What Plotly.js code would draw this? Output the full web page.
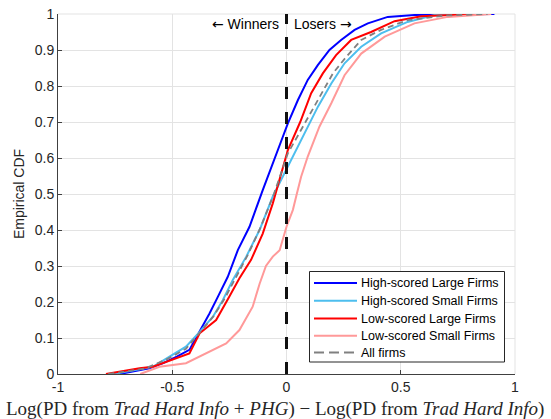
<!DOCTYPE html>
<html>
<head>
<meta charset="utf-8">
<script src="https://cdn.plot.ly/plotly-3.0.1.min.js"></script>
<style>html,body{margin:0;padding:0;background:#fff;}#chart{width:551px;height:419px;}</style>
</head>
<body>
<div id="chart"></div>
<script>
// Series names
const seriesNames = ["High-scored Large Firms", "High-scored Small Firms", "Low-scored Large Firms", "Low-scored Small Firms", "All firms"];

// High-scored Large Firms (x, CDF)
const hlX = [-0.73, -0.6, -0.54, -0.48, -0.425, -0.38, -0.337, -0.30, -0.257, -0.213, -0.162, -0.104, -0.053, -0.016, 0.006, 0.05, 0.093, 0.137, 0.188, 0.239, 0.298, 0.356, 0.443, 0.56, 0.75, 0.91];
const hlY = [0, 0.016, 0.03, 0.048, 0.067, 0.117, 0.168, 0.215, 0.27, 0.344, 0.409, 0.511, 0.594, 0.659, 0.696, 0.761, 0.817, 0.858, 0.9, 0.928, 0.956, 0.974, 0.992, 0.997, 0.999, 1];

// High-scored Small Firms
const hsX = [-0.76, -0.585, -0.512, -0.44, -0.38, -0.322, -0.279, -0.235, -0.176, -0.118, -0.06, 0.0, 0.079, 0.137, 0.196, 0.254, 0.327, 0.414, 0.53, 0.648, 0.8, 0.88];
const hsY = [0, 0.02, 0.048, 0.076, 0.117, 0.159, 0.205, 0.261, 0.326, 0.4, 0.493, 0.57, 0.668, 0.742, 0.807, 0.863, 0.909, 0.946, 0.978, 0.997, 0.999, 1];

// Low-scored Large Firms
const llX = [-0.79, -0.73, -0.643, -0.585, -0.5, -0.425, -0.38, -0.308, -0.25, -0.206, -0.155, -0.104, -0.06, -0.03, 0.006, 0.06, 0.108, 0.159, 0.217, 0.283, 0.37, 0.473, 0.59, 0.75, 0.87];
const llY = [0, 0.007, 0.016, 0.02, 0.039, 0.057, 0.113, 0.15, 0.215, 0.266, 0.317, 0.39, 0.474, 0.539, 0.622, 0.70, 0.78, 0.835, 0.886, 0.928, 0.95, 0.98, 0.994, 0.998, 1];

// Low-scored Small Firms
const lsX = [-0.64, -0.556, -0.44, -0.35, -0.264, -0.206, -0.148, -0.118, -0.09, -0.06, -0.03, 0.0, 0.028, 0.045, 0.064, 0.093, 0.144, 0.196, 0.254, 0.327, 0.43, 0.56, 0.706, 0.896];
const lsY = [0, 0.02, 0.03, 0.057, 0.085, 0.122, 0.187, 0.25, 0.30, 0.326, 0.344, 0.409, 0.456, 0.50, 0.548, 0.604, 0.687, 0.752, 0.83, 0.89, 0.937, 0.974, 0.992, 1];

// All firms
const allX = [-0.78, -0.62, -0.52, -0.44, -0.38, -0.32, -0.27, -0.225, -0.17, -0.115, -0.055, 0.006, 0.079, 0.137, 0.203, 0.26, 0.327, 0.414, 0.53, 0.7, 0.88];
const allY = [0, 0.015, 0.042, 0.07, 0.115, 0.16, 0.21, 0.265, 0.33, 0.405, 0.5, 0.613, 0.696, 0.76, 0.835, 0.88, 0.928, 0.956, 0.983, 0.996, 1];

// Tick labels
const xTickVals = [-1, -0.5, 0, 0.5, 1];
const xTickText = ["-1", "-0.5", "0", "0.5", "1"];
const yTickVals = [0, 0.1, 0.2, 0.3, 0.4, 0.5, 0.6, 0.7, 0.8, 0.9, 1];
const yTickText = ["0", "0.1", "0.2", "0.3", "0.4", "0.5", "0.6", "0.7", "0.8", "0.9", "1"];

const colors = ["#0000FF", "#4DBEEE", "#FF0000", "#FF9999", "#808080"];
const dashes = ["solid", "solid", "solid", "solid", "6px,4px"];
const widths = [2, 2, 2, 2, 1.8];
const xs = [hlX, hsX, llX, lsX, allX];
const ys = [hlY, hsY, llY, lsY, allY];

const traces = seriesNames.map((n, i) => ({
  type: "scatter",
  mode: "lines",
  name: n,
  x: xs[i],
  y: ys[i],
  showlegend: false,
  line: {color: colors[i], width: widths[i], dash: dashes[i]}
}));

const font = "Liberation Sans, Arial, sans-serif";

// plot area geometry (pixels)
const L = 58, R = 515, T = 14, B = 374;
const px2x = p => (p - L) / (R - L);
const py2y = p => (B - p) / (B - T);

const shapes = [
  {type: "line", xref: "x", yref: "y", x0: 0, x1: 0, y0: 0, y1: 1,
   line: {color: "#111111", width: 3, dash: "12px,13px"}},
  {type: "line", xref: "paper", yref: "paper", x0: 0, x1: 1, y0: 1, y1: 1,
   line: {color: "#e3e3e3", width: 1}, layer: "below"},
  {type: "line", xref: "paper", yref: "paper", x0: 1, x1: 1, y0: 0, y1: 1,
   line: {color: "#e3e3e3", width: 1}, layer: "below"},
  // legend box
  {type: "rect", xref: "paper", yref: "paper", x0: px2x(309.5), x1: px2x(504.5), y0: py2y(362), y1: py2y(271.5),
   fillcolor: "#ffffff", line: {color: "#262626", width: 1}, layer: "above"}
];

const annotations = [
  {xref: "x", yref: "y", x: -0.026, y: 0.973, xanchor: "right", yanchor: "middle",
   text: "<span style=\"font-family:DejaVu Sans\">\u2190</span> Winners", showarrow: false, font: {family: font, size: 14, color: "#000000"}},
  {xref: "x", yref: "y", x: 0.026, y: 0.973, xanchor: "left", yanchor: "middle",
   text: "Losers <span style=\"font-family:DejaVu Sans\">\u2192</span>", showarrow: false, font: {family: font, size: 14, color: "#000000"}},
  {xref: "paper", yref: "paper", x: 0.475, y: -0.098, xanchor: "center", yanchor: "middle",
   text: "Log(PD from <i>Trad Hard Info</i> + <i>PHG</i>) \u2212 Log(PD from <i>Trad Hard Info</i>)",
   showarrow: false, font: {family: "Liberation Serif, Times New Roman, serif", size: 19, color: "#262626"}}
];

// legend entries
const rowY = [283, 300.7, 318.5, 335.7, 352.5];
seriesNames.forEach((n, i) => {
  shapes.push({type: "line", xref: "paper", yref: "paper", x0: px2x(314), x1: px2x(357), y0: py2y(rowY[i]), y1: py2y(rowY[i]),
    line: {color: colors[i], width: widths[i], dash: i === 4 ? "10px,5px" : "solid"}, layer: "above"});
  annotations.push({xref: "paper", yref: "paper", x: px2x(359), y: py2y(rowY[i]), xanchor: "left", yanchor: "middle",
    text: n, showarrow: false, font: {family: font, size: 12.5, color: "#000000"}});
});

const layout = {
  width: 551,
  height: 419,
  margin: {l: 58, r: 36, t: 14, b: 45},
  paper_bgcolor: "#ffffff",
  plot_bgcolor: "#ffffff",
  showlegend: false,
  font: {family: font, size: 14, color: "#262626"},
  xaxis: {
    range: [-1, 1],
    tickvals: xTickVals,
    ticktext: xTickText,
    showgrid: true,
    gridcolor: "#e3e3e3",
    gridwidth: 1,
    zeroline: false,
    showline: true,
    linecolor: "#404040",
    linewidth: 1,
    ticks: "inside",
    ticklen: 4,
    tickcolor: "#404040",
    tickfont: {family: font, size: 14, color: "#262626"},
    fixedrange: true
  },
  yaxis: {
    range: [0, 1],
    tickvals: yTickVals,
    ticktext: yTickText,
    showgrid: true,
    gridcolor: "#e3e3e3",
    gridwidth: 1,
    zeroline: false,
    showline: true,
    linecolor: "#404040",
    linewidth: 1,
    ticks: "inside",
    ticklen: 4,
    tickcolor: "#404040",
    tickfont: {family: font, size: 14, color: "#262626"},
    title: {text: "Empirical CDF", font: {family: font, size: 14, color: "#262626"}, standoff: 6},
    fixedrange: true
  },
  shapes: shapes,
  annotations: annotations
};

Plotly.newPlot("chart", traces, layout, {displayModeBar: false, staticPlot: true});
</script>
</body>
</html>
